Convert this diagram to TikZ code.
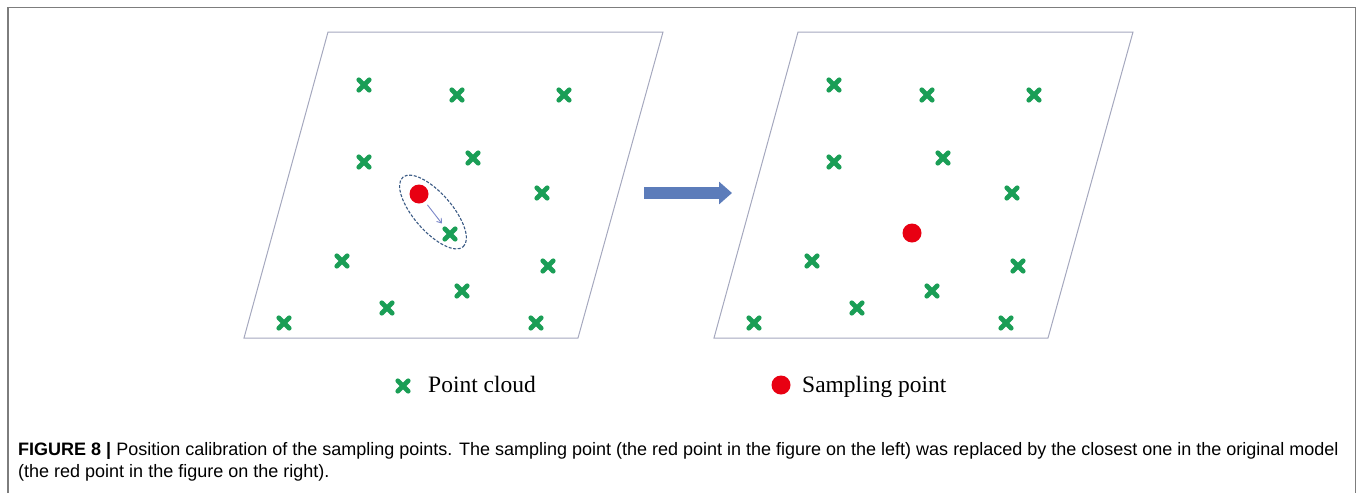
\documentclass[tikz,border=0pt]{standalone}
\usepackage{fontspec}
\setmainfont{Liberation Serif}
\newfontfamily\capfont{Liberation Sans}
\usetikzlibrary{arrows.meta,shapes.geometric}

\definecolor{ptgreen}{RGB}{26,158,86}
\definecolor{ptred}{RGB}{232,0,18}
\definecolor{bigblue}{RGB}{92,124,186}
\definecolor{smallblue}{RGB}{122,134,200}
\definecolor{ringblue}{RGB}{58,90,132}
\definecolor{planegray}{RGB}{165,168,190}
\definecolor{framegray}{RGB}{125,125,125}

\tikzstyle{cloudpt} = [minimum size=16pt, inner sep=0pt, path picture={
    \draw[ptgreen, line width=4.8pt, line cap=round]
        ([shift={(2.8pt,2.8pt)}]path picture bounding box.south west) --
        ([shift={(-2.8pt,-2.8pt)}]path picture bounding box.north east)
        ([shift={(2.8pt,-2.8pt)}]path picture bounding box.north west) --
        ([shift={(-2.8pt,2.8pt)}]path picture bounding box.south east);}]
\tikzstyle{samplept} = [circle, fill=ptred, minimum size=19pt, inner sep=0pt]
\tikzstyle{keytext} = [anchor=base west, inner sep=0pt, font=\fontsize{23.5}{26}\selectfont]
\tikzstyle{captext} = [anchor=base west, inner sep=0pt, font=\capfont\fontsize{18}{22}\selectfont]

\begin{document}
\begin{tikzpicture}[x=1pt, y=-1pt]
\useasboundingbox (0,0) rectangle (1360,493);
\draw[framegray, line width=1.5pt] (8,493) -- (8,7.5) -- (1355.5,7.5) -- (1355.5,493);

% left plane
\draw[planegray, line width=1pt] (244,338) -- (578,338) -- (663,32) -- (328,32) -- cycle;
\node[cloudpt] (cl1) at (364,85) {};
\node[cloudpt] (cl2) at (457,95) {};
\node[cloudpt] (cl3) at (564,95) {};
\node[cloudpt] (cl4) at (364,162) {};
\node[cloudpt] (cl5) at (473,158) {};
\node[cloudpt] (cl6) at (542,193) {};
\node[cloudpt] (cl7) at (450,234) {};
\node[cloudpt] (cl8) at (342,261) {};
\node[cloudpt] (cl9) at (548,266) {};
\node[cloudpt] (cl10) at (462,291) {};
\node[cloudpt] (cl11) at (387,308) {};
\node[cloudpt] (cl12) at (284,323) {};
\node[cloudpt] (cl13) at (536,323) {};
\node[samplept] (sl) at (419,194) {};
\node[ellipse, draw=ringblue, line width=1.1pt, dash pattern=on 3pt off 1.6pt,
    minimum width=92pt, minimum height=38pt, rotate=-49] (ring) at (433,212) {};
\draw[smallblue, line width=0.9pt, -{Straight Barb[length=4pt,width=6pt]},
    shorten <=4pt, shorten >=3pt] (sl) -- (cl7);

\coordinate (goL) at (644,193);
\coordinate (goR) at (732,193);
\draw[bigblue, line width=12pt, -{Triangle[length=13pt,width=22pt]}] (goL) -- (goR);

% right plane
\draw[planegray, line width=1pt] (714,338) -- (1048,338) -- (1133,32) -- (798,32) -- cycle;
\node[cloudpt] (cr1) at (834,85) {};
\node[cloudpt] (cr2) at (927,95) {};
\node[cloudpt] (cr3) at (1034,95) {};
\node[cloudpt] (cr4) at (834,162) {};
\node[cloudpt] (cr5) at (943,158) {};
\node[cloudpt] (cr6) at (1012,193) {};
\node[cloudpt] (cr7) at (812,261) {};
\node[cloudpt] (cr8) at (1018,266) {};
\node[cloudpt] (cr9) at (932,291) {};
\node[cloudpt] (cr10) at (857,308) {};
\node[cloudpt] (cr11) at (754,323) {};
\node[cloudpt] (cr12) at (1006,323) {};
\node[samplept] (sr) at (912,233) {};

% legend
\node[cloudpt] (keycloud) at (403,386) {};
\node[keytext] (keycloudtxt) at (428,392) {Point cloud};
\node[samplept] (keysample) at (781,385) {};
\node[keytext] (keysampletxt) at (802,392) {Sampling point};

% caption
\node[captext] (capline1) at (18,455) {\textbf{FIGURE 8 |} Position calibration of the sampling points. The sampling point (the red point in the figure on the left) was replaced by the closest one in the original model};
\node[captext] (capline2) at (18,477) {(the red point in the figure on the right).};
\end{tikzpicture}
\end{document}
